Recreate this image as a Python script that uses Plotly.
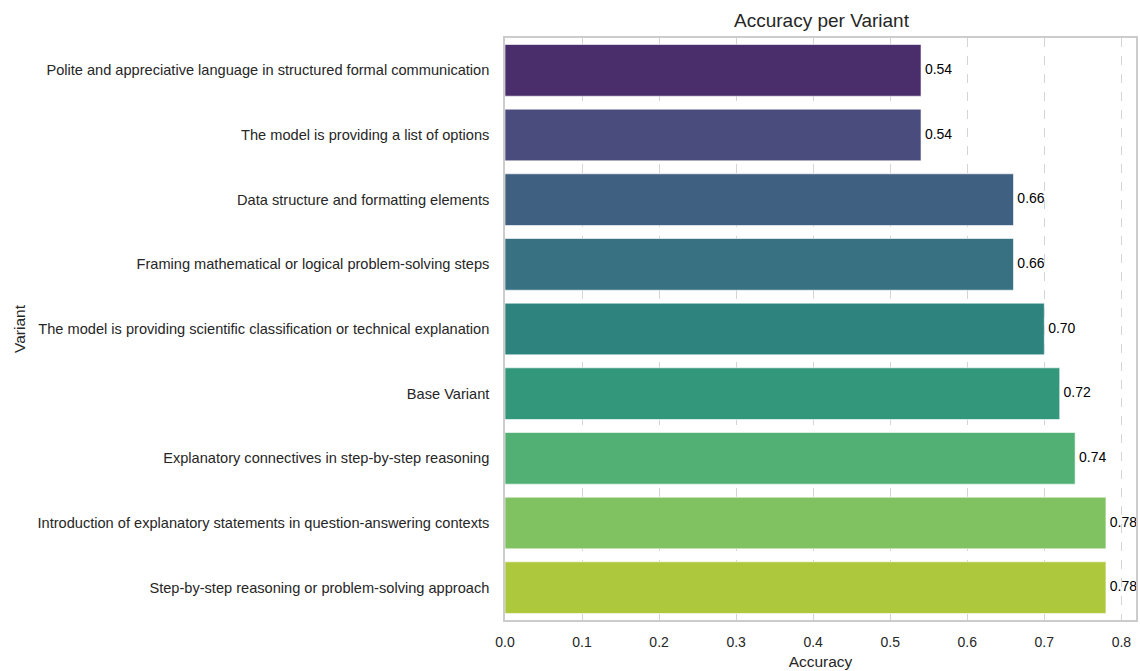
import colorsys
import plotly.graph_objects as go

variants = [
    "Polite and appreciative language in structured formal communication",
    "The model is providing a list of options",
    "Data structure and formatting elements",
    "Framing mathematical or logical problem-solving steps",
    "The model is providing scientific classification or technical explanation",
    "Base Variant",
    "Explanatory connectives in step-by-step reasoning",
    "Introduction of explanatory statements in question-answering contexts",
    "Step-by-step reasoning or problem-solving approach",
]
accuracy = [0.54, 0.54, 0.66, 0.66, 0.70, 0.72, 0.74, 0.78, 0.78]
value_labels = [f"{v:.2f}" for v in accuracy]

viridis9 = ["#482475", "#414487", "#355f8d", "#2a788e", "#21918c",
            "#22a884", "#44bf70", "#7ad151", "#bddf26"]


def desat(hexc, prop=0.75):
    r, g, b = (int(hexc[i:i + 2], 16) / 255 for i in (1, 3, 5))
    h, l, s = colorsys.rgb_to_hls(r, g, b)
    r, g, b = colorsys.hls_to_rgb(h, l, s * prop)
    return "#%02x%02x%02x" % (round(r * 255), round(g * 255), round(b * 255))


colors = [desat(c) for c in viridis9]

FONT = "Liberation Sans, Arial, sans-serif"
TXT = "#262626"

fig = go.Figure()
fig.add_trace(go.Bar(
    x=accuracy, y=variants, orientation="h",
    marker=dict(color=colors, line=dict(color="rgba(255,255,255,0.6)", width=1)),
    width=0.8, showlegend=False, hoverinfo="x+y",
))
label_x = [v + 0.005 for v in accuracy]
fig.add_trace(go.Scatter(
    x=label_x, y=variants, mode="text", text=value_labels,
    textposition="middle right", textfont=dict(family=FONT, size=14, color="#000000"),
    showlegend=False, hoverinfo="skip", cliponaxis=True,
))

fig.update_layout(
    width=1140, height=671,
    margin=dict(l=505, r=2, t=38, b=51),
    paper_bgcolor="white", plot_bgcolor="white",
    font=dict(family=FONT, size=14, color=TXT),
    title=dict(text="Accuracy per Variant", x=(505 + 1138) / 2 / 1140, xanchor="center",
               y=1 - 20 / 671, yanchor="middle", font=dict(size=19, color=TXT)),
    bargap=0.2,
)
fig.update_xaxes(
    range=[0, 0.819], dtick=0.1, tick0=0, tickformat=".1f",
    showgrid=True, gridcolor="#d4d4d4", griddash="dash", gridwidth=1,
    showline=True, linecolor="#cccccc", linewidth=1.5, mirror=True,
    zeroline=False, ticks="", ticklabelstandoff=8,
    title=dict(text="Accuracy", font=dict(size=15.5, color=TXT), standoff=8),
    tickfont=dict(size=14, color=TXT),
)
fig.update_yaxes(
    categoryorder="array", categoryarray=variants, range=[8.5, -0.5],
    showgrid=False, showline=True, linecolor="#cccccc", linewidth=1.5, mirror=True,
    zeroline=False, ticks="", ticklabelstandoff=11,
    title=dict(text="Variant", font=dict(size=15.5, color=TXT), standoff=8),
    tickfont=dict(size=14.6, color=TXT),
)

fig.write_html("out.html", config={"displayModeBar": False},
               post_script="document.body.style.margin='0';")
